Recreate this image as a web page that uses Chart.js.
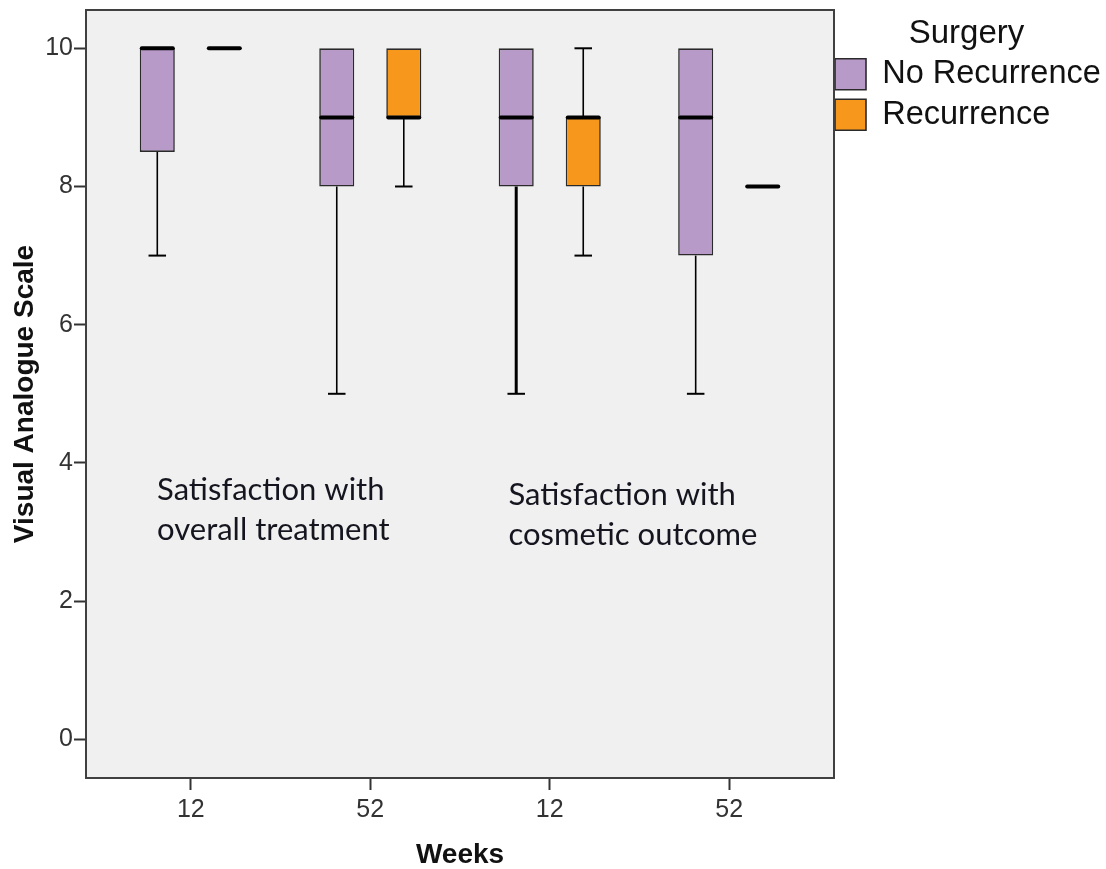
<!DOCTYPE html>
<html>
<head>
<meta charset="utf-8">
<title>Visual Analogue Scale by Weeks and Surgery</title>
<script src="https://cdn.jsdelivr.net/npm/chart.js@4/dist/chart.umd.min.js"></script>
<style>
  html, body { margin: 0; padding: 0; background: #ffffff; }
  #wrap { width: 1106px; height: 869px; position: relative; }
</style>
</head>
<body>
<div id="wrap"><canvas id="chart"></canvas></div>
<script>
// ---- data -------------------------------------------------------------
const weekLabels = ['12', '52', '12', '52'];
const seriesNames = ['No Recurrence', 'Recurrence'];

// No Recurrence: five-number summaries per week group
const noRecMin    = [7, 5, 5, 5];
const noRecQ1     = [8.5, 8, 8, 7];
const noRecMedian = [10, 9, 9, 9];
const noRecQ3     = [10, 10, 10, 10];
const noRecMax    = [10, 10, 10, 10];

// Recurrence: five-number summaries per week group
const recMin    = [10, 8, 7, 8];
const recQ1     = [10, 9, 8, 8];
const recMedian = [10, 9, 9, 8];
const recQ3     = [10, 10, 9, 8];
const recMax    = [10, 10, 10, 8];

const yTicks = [0, 2, 4, 6, 8, 10];

const panelNotes = [
  ['Satisfaction with', 'overall treatment'],
  ['Satisfaction with', 'cosmetic outcome']
];

// ---- styling ----------------------------------------------------------
const SANS = "'Liberation Sans', Arial, sans-serif";
const NOTE_FONT = "31px Lato, 'Open Sans', sans-serif";
const fills = ['#B89AC9', '#F7981D'];
const whiskerWidths = [[1.6, 1.6, 3, 1.6], [1.6, 1.6, 1.6, 1.6]];

const summaries = [
  { min: noRecMin, q1: noRecQ1, med: noRecMedian, q3: noRecQ3, max: noRecMax },
  { min: recMin,   q1: recQ1,   med: recMedian,   q3: recQ3,   max: recMax }
];

// grey plotting panel and its frame
const plotFrame = {
  id: 'plotFrame',
  beforeDraw(chart) {
    const { ctx, chartArea: a } = chart;
    ctx.save();
    ctx.fillStyle = '#F0F0F0';
    ctx.fillRect(a.left, a.top, a.right - a.left, a.bottom - a.top);
    ctx.restore();
  },
  afterDraw(chart) {
    const { ctx, chartArea: a } = chart;
    ctx.save();
    ctx.strokeStyle = '#404040';
    ctx.lineWidth = 2;
    ctx.strokeRect(a.left, a.top, a.right - a.left, a.bottom - a.top);
    ctx.restore();
  }
};

// whiskers, caps and median bars on top of the floating IQR bars
const boxWhiskers = {
  id: 'boxWhiskers',
  afterDatasetsDraw(chart) {
    const { ctx } = chart;
    const yScale = chart.scales.y;
    const py = v => yScale.getPixelForValue(v);
    summaries.forEach((s, d) => {
      const meta = chart.getDatasetMeta(d);
      meta.data.forEach((bar, i) => {
        const cx = bar.x;
        const half = bar.width / 2;
        const capHalf = half / 2;
        ctx.save();
        ctx.strokeStyle = '#000';
        ctx.lineCap = 'butt';
        const seg = (x1, y1, x2, y2) => {
          ctx.beginPath(); ctx.moveTo(x1, y1); ctx.lineTo(x2, y2); ctx.stroke();
        };
        if (s.max[i] > s.q3[i]) {
          ctx.lineWidth = whiskerWidths[d][i];
          seg(cx, py(s.q3[i]), cx, py(s.max[i]));
          ctx.lineWidth = 2;
          seg(cx - capHalf, py(s.max[i]), cx + capHalf, py(s.max[i]));
        }
        if (s.min[i] < s.q1[i]) {
          ctx.lineWidth = whiskerWidths[d][i];
          seg(cx, py(s.q1[i]), cx, py(s.min[i]));
          ctx.lineWidth = 2;
          seg(cx - capHalf, py(s.min[i]), cx + capHalf, py(s.min[i]));
        }
        // median
        ctx.lineWidth = 4;
        ctx.lineCap = 'round';
        seg(cx - half + 2, py(s.med[i]), cx + half - 2, py(s.med[i]));
        ctx.restore();
      });
    });
  }
};

// panel captions placed in data space
const panelCaptions = {
  id: 'panelCaptions',
  afterDatasetsDraw(chart) {
    const { ctx } = chart;
    const xs = chart.scales.x, ys = chart.scales.y;
    const anchors = [{ x: -0.188, y: 3.463 }, { x: 1.770, y: 3.39 }];
    ctx.save();
    ctx.font = NOTE_FONT;
    ctx.fillStyle = '#151520';
    ctx.textAlign = 'left';
    ctx.textBaseline = 'alphabetic';
    panelNotes.forEach((lines, k) => {
      const x = xs.getPixelForValue(anchors[k].x);
      const y = ys.getPixelForValue(anchors[k].y);
      lines.forEach((t, j) => ctx.fillText(t, x, y + j * 40));
    });
    ctx.restore();
  }
};

// legend sits flush against the panel's right edge
const legendFlush = {
  id: 'legendFlush',
  afterLayout(chart) {
    const lg = chart.legend;
    if (lg) { lg.left -= 7; lg.width += 7; }
  }
};

const tickGrid = {
  drawOnChartArea: false,
  drawTicks: true,
  tickLength: 12,
  tickColor: '#333',
  tickWidth: 2,
  offset: false
};

new Chart(document.getElementById('chart'), {
  type: 'bar',
  data: {
    datasets: seriesNames.map((name, d) => ({
      label: name,
      data: weekLabels.map((_, i) => ({ x: i, y: [summaries[d].q1[i], summaries[d].q3[i]] })),
      backgroundColor: fills[d],
      borderColor: '#2a2a2a',
      borderWidth: 1.6,
      borderSkipped: false,
      categoryPercentage: 0.747,
      barPercentage: 0.5226
    }))
  },
  options: {
    responsive: true,
    maintainAspectRatio: false,
    animation: false,
    events: [],
    layout: { autoPadding: false, padding: { top: 10, left: 0, right: 0, bottom: 0 } },
    scales: {
      x: {
        type: 'linear',
        offset: false,
        min: -0.584,
        max: 3.584,
        afterBuildTicks: s => { s.ticks = weekLabels.map((_, i) => ({ value: i })); },
        afterFit: s => { s.height = 91; },
        ticks: {
          callback: v => weekLabels[Math.round(v)],
          font: { family: SANS, size: 25 },
          color: '#333',
          padding: 5,
          autoSkip: false,
          maxRotation: 0
        },
        grid: tickGrid,
        border: { display: false },
        title: {
          display: true,
          text: 'Weeks',
          color: '#111',
          font: { family: SANS, size: 28, weight: 'bold', lineHeight: 1 },
          padding: 0
        }
      },
      y: {
        type: 'linear',
        min: -0.56,
        max: 10.554,
        afterBuildTicks: s => { s.ticks = yTicks.map(v => ({ value: v })); },
        afterFit: s => { s.width = 86; s.paddingTop = 0; s.paddingBottom = 0; },
        ticks: {
          font: { family: SANS, size: 25 },
          color: '#333',
          padding: 1
        },
        grid: tickGrid,
        border: { display: false },
        title: {
          display: true,
          text: 'Visual Analogue Scale',
          color: '#111',
          font: { family: SANS, size: 28, weight: 'bold', lineHeight: 1.2 },
          padding: { top: 8, bottom: 0 }
        }
      }
    },
    plugins: {
      tooltip: { enabled: false },
      legend: {
        position: 'right',
        align: 'start',
        maxWidth: 272,
        title: {
          display: true,
          text: 'Surgery',
          color: '#111',
          position: 'center',
          font: { family: SANS, size: 33, lineHeight: 1 },
          padding: { top: 7, bottom: 0 }
        },
        labels: {
          boxWidth: 31,
          boxHeight: 31,
          padding: 8,
          color: '#111',
          font: { family: SANS, size: 32.5 }
        }
      }
    }
  },
  plugins: [plotFrame, boxWhiskers, panelCaptions, legendFlush]
});
</script>
</body>
</html>
